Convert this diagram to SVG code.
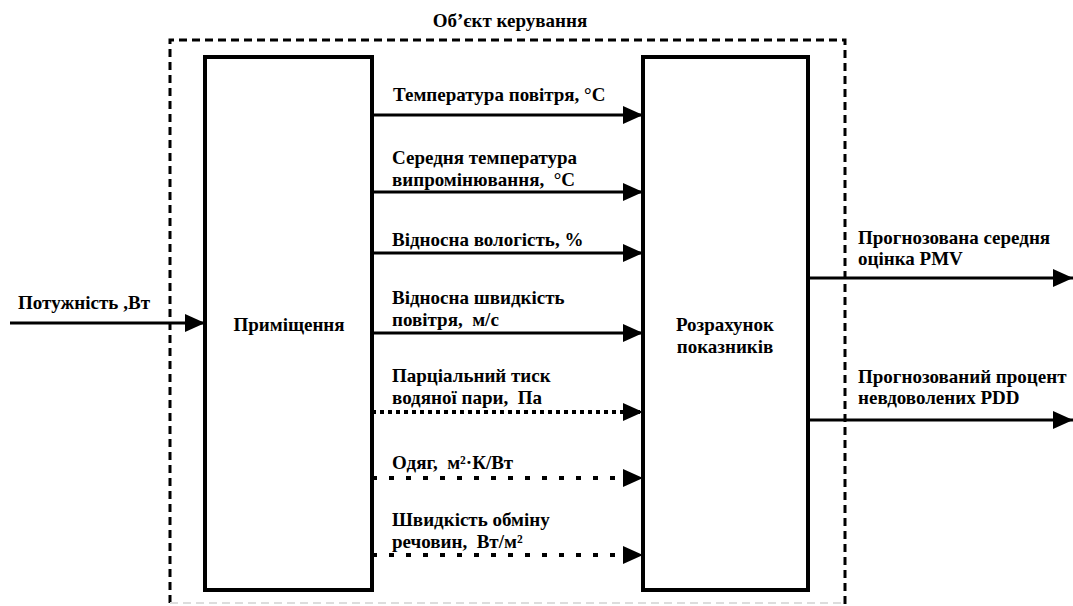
<svg xmlns="http://www.w3.org/2000/svg" width="1073" height="606" viewBox="0 0 1073 606">
<style>
text{font-weight:bold;font-size:19px;fill:#000;white-space:pre}
.box{fill:#fff;stroke:#000;stroke-width:4}
.ln{stroke:#000;stroke-width:3;fill:none}
.dot1{stroke:#000;stroke-width:4;fill:none;stroke-dasharray:4 4}
.dot2{stroke:#000;stroke-width:4;fill:none;stroke-dasharray:5 12}
.mid{text-anchor:middle}
</style>
<defs>
<marker id="ah" markerUnits="userSpaceOnUse" markerWidth="20" markerHeight="20" refX="20" refY="9" orient="auto" viewBox="0 0 20 18">
<path d="M0,0 L20,9 L0,18 z" fill="#000"/>
</marker>
</defs>
<rect width="1073" height="606" fill="#fff"/>
<g font-family="Liberation Serif, Times New Roman, serif">
<g id="object">
<path d="M170,603 V40 H845 V606" fill="none" stroke="#000" stroke-width="3" stroke-dasharray="8 5"/>
<line x1="170" y1="603" x2="845" y2="603" stroke="#ddd" stroke-width="2" stroke-dasharray="8 5"/>
<text x="510" y="27" class="mid">Об’єкт керування</text>
</g>
<g id="room">
<rect class="box" x="205" y="57" width="167" height="533"/>
<text x="289" y="331" class="mid">Приміщення</text>
</g>
<g id="calc">
<rect class="box" x="643" y="57" width="165" height="533"/>
<text x="725" y="331" class="mid">Розрахунок</text>
<text x="725" y="353" class="mid">показників</text>
</g>
<g id="connectors">
<line class="ln" x1="10" y1="323" x2="205" y2="323" marker-end="url(#ah)"/>
<line class="ln" x1="372" y1="115" x2="643" y2="115" marker-end="url(#ah)"/>
<line class="ln" x1="372" y1="192" x2="643" y2="192" marker-end="url(#ah)"/>
<line class="ln" x1="372" y1="253" x2="643" y2="253" marker-end="url(#ah)"/>
<line class="ln" x1="372" y1="333" x2="643" y2="333" marker-end="url(#ah)"/>
<line class="dot1" x1="372" y1="412" x2="643" y2="412" marker-end="url(#ah)"/>
<line class="dot2" x1="372" y1="478" x2="643" y2="478" marker-end="url(#ah)"/>
<line class="dot2" x1="372" y1="555" x2="643" y2="555" marker-end="url(#ah)"/>
<line class="ln" x1="808" y1="278" x2="1073" y2="278" marker-end="url(#ah)"/>
<line class="ln" x1="808" y1="420" x2="1073" y2="420" marker-end="url(#ah)"/>
</g>
<g id="labels">
<text x="18" y="309" textLength="132" lengthAdjust="spacingAndGlyphs">Потужність ,Вт</text>
<text x="393" y="101">Температура повітря, °С</text>
<text x="392" y="164">Середня температура</text>
<text x="392" y="186">випромінювання,  °С</text>
<text x="392" y="246">Відносна вологість, %</text>
<text x="392" y="304">Відносна швидкість</text>
<text x="392" y="326">повітря,  м/с</text>
<text x="392" y="382">Парціальний тиск</text>
<text x="392" y="404">водяної пари,  Па</text>
<text x="392" y="469">Одяг,  м²·К/Вт</text>
<text x="392" y="526">Швидкість обміну</text>
<text x="392" y="548">речовин,  Вт/м²</text>
<text x="858" y="244">Прогнозована середня</text>
<text x="858" y="265">оцінка PMV</text>
<text x="858" y="383">Прогнозований процент</text>
<text x="858" y="404">невдоволених PDD</text>
</g>
</g>
</svg>
